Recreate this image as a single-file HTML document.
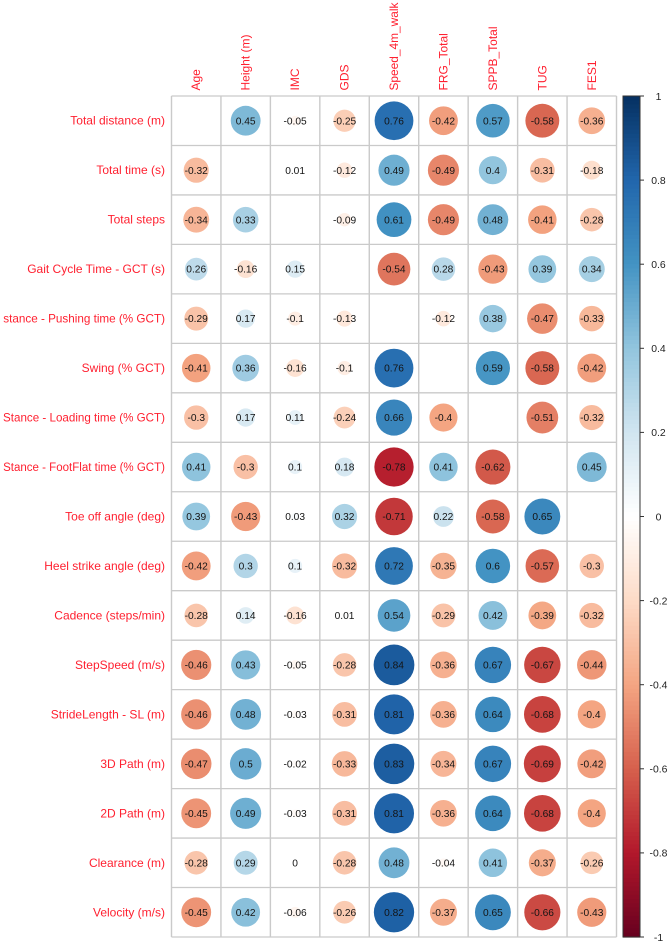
<!DOCTYPE html>
<html lang="en">
<head>
<meta charset="utf-8">
<title>Correlation matrix</title>
<style>
html,body{margin:0;padding:0;background:#fff;width:670px;height:944px;overflow:hidden}
svg{display:block;font-family:"Liberation Sans",Arial,sans-serif}
</style>
</head>
<body>
<svg id="chart" xmlns="http://www.w3.org/2000/svg" width="670" height="944" viewBox="0 0 670 944"></svg>
<script>
const columnLabels = ["Age","Height (m)","IMC","GDS","Speed_4m_walk","FRG_Total","SPPB_Total","TUG","FES1"];
const rowLabels = ["Total distance (m)","Total time (s)","Total steps","Gait Cycle Time - GCT (s)","stance - Pushing time (% GCT)","Swing (% GCT)","Stance - Loading time (% GCT)","Stance - FootFlat time (% GCT)","Toe off angle (deg)","Heel strike angle (deg)","Cadence (steps/min)","StepSpeed (m/s)","StrideLength - SL (m)","3D Path (m)","2D Path (m)","Clearance (m)","Velocity (m/s)"];
const correlations = [
[null,0.45,-0.05,-0.25,0.76,-0.42,0.57,-0.58,-0.36],
[-0.32,null,0.01,-0.12,0.49,-0.49,0.4,-0.31,-0.18],
[-0.34,0.33,null,-0.09,0.61,-0.49,0.48,-0.41,-0.28],
[0.26,-0.16,0.15,null,-0.54,0.28,-0.43,0.39,0.34],
[-0.29,0.17,-0.1,-0.13,null,-0.12,0.38,-0.47,-0.33],
[-0.41,0.36,-0.16,-0.1,0.76,null,0.59,-0.58,-0.42],
[-0.3,0.17,0.11,-0.24,0.66,-0.4,null,-0.51,-0.32],
[0.41,-0.3,0.1,0.18,-0.78,0.41,-0.62,null,0.45],
[0.39,-0.43,0.03,0.32,-0.71,0.22,-0.58,0.65,null],
[-0.42,0.3,0.1,-0.32,0.72,-0.35,0.6,-0.57,-0.3],
[-0.28,0.14,-0.16,0.01,0.54,-0.29,0.42,-0.39,-0.32],
[-0.46,0.43,-0.05,-0.28,0.84,-0.36,0.67,-0.67,-0.44],
[-0.46,0.48,-0.03,-0.31,0.81,-0.36,0.64,-0.68,-0.4],
[-0.47,0.5,-0.02,-0.33,0.83,-0.34,0.67,-0.69,-0.42],
[-0.45,0.49,-0.03,-0.31,0.81,-0.36,0.64,-0.68,-0.4],
[-0.28,0.29,0,-0.28,0.48,-0.04,0.41,-0.37,-0.26],
[-0.45,0.42,-0.06,-0.26,0.82,-0.37,0.65,-0.66,-0.43]
];
const legendTicks = [1,0.8,0.6,0.4,0.2,0,-0.2,-0.4,-0.6,-0.8,-1];
const palette = ["#67001F","#B2182B","#D6604D","#F4A582","#FDDBC7","#FFFFFF","#D1E5F0","#92C5DE","#4393C3","#2166AC","#053061"];

const NS = "http://www.w3.org/2000/svg";
const svg = document.getElementById("chart");
const gridLeft = 171.5, gridRight = 616.5, gridTop = 96, gridBottom = 937;
const cellW = (gridRight - gridLeft) / columnLabels.length;
const cellH = (gridBottom - gridTop) / rowLabels.length;
const barLeft = 623, barRight = 640;
const maxRowLabelWidth = 162, maxColumnLabelHeight = 88;

function xEdge(i){ return gridLeft + i * cellW; }
function yEdge(i){ return gridTop + i * cellH; }
function xCenter(i){ return xEdge(i) + cellW / 2; }
function yCenter(i){ return yEdge(i) + cellH / 2; }
function radius(v){ return Math.sqrt(Math.abs(v)) * 0.45 * Math.min(cellW, cellH); }
function legendY(v){ return gridTop + (1 - v) / 2 * (gridBottom - gridTop); }
function colorFor(v){
  const p = (Math.max(-1, Math.min(1, v)) + 1) / 2 * (palette.length - 1);
  const a = Math.min(Math.floor(p), palette.length - 2);
  const t = p - a;
  const parse = h => [1,3,5].map(k => parseInt(h.substr(k,2),16));
  const c1 = parse(palette[a]), c2 = parse(palette[a+1]);
  return "rgb(" + c1.map((c,k) => Math.round(c + (c2[k]-c)*t)).join(",") + ")";
}
function make(tag, attrs, parent){
  const el = document.createElementNS(NS, tag);
  for (const k in attrs) el.setAttribute(k, attrs[k]);
  (parent || svg).appendChild(el);
  return el;
}
function fitFont(el, maxLength){
  const len = el.getComputedTextLength();
  if (len > maxLength) el.setAttribute("font-size", 12 * maxLength / len);
}

// grid
for (let i = 0; i <= columnLabels.length; i++){
  const el = make("line", {x1:xEdge(i), x2:xEdge(i), y1:gridTop, y2:gridBottom, stroke:"#cacaca", "stroke-width":1.4});
  
  
}
for (let i = 0; i <= rowLabels.length; i++){
  const el = make("line", {x1:gridLeft, x2:gridRight, y1:yEdge(i), y2:yEdge(i), stroke:"#cacaca", "stroke-width":1.3});
  
  
}

// column labels
columnLabels.forEach((label, i) => {
  const x = xCenter(i) + 4, y = 90.5;
  const el = make("text", {x:x, y:y, transform:"rotate(-90 " + x + " " + y + ")", "font-size":12, fill:"#ff2030", "text-anchor":"start"});
  el.textContent = label;
  
  
  fitFont(el, maxColumnLabelHeight);
});

// row labels
rowLabels.forEach((label, i) => {
  const el = make("text", {x:165, y:yCenter(i) + 4, "font-size":12, fill:"#ff2030", "text-anchor":"end"});
  el.textContent = label;
  
  
  fitFont(el, maxRowLabelWidth);
});

// cells
correlations.forEach((row, r) => {
  row.forEach((v, c) => {
    if (v === null) return;
    const dot = make("circle", {cx:xCenter(c), cy:yCenter(r), r:radius(v), fill:colorFor(v)});
    
    
    const txt = make("text", {x:xCenter(c), y:yCenter(r) + 3.6, "font-size":10.2, fill:"#141414", "text-anchor":"middle"});
    txt.textContent = String(v);
    
    
  });
});

// legend colour bar
const barSteps = 200;
for (let i = 0; i < barSteps; i++){
  const hi = 1 - 2 * i / barSteps, lo = 1 - 2 * (i + 1) / barSteps;
  const seg = make("rect", {x:barLeft, width:barRight - barLeft, y:legendY(hi), height:legendY(lo) - legendY(hi) + 0.6, fill:colorFor((hi + lo) / 2)});
  
  
}
const barFrame = make("rect", {x:barLeft, y:gridTop, width:barRight - barLeft, height:gridBottom - gridTop, fill:"none", stroke:"#333", "stroke-width":1});



legendTicks.forEach(v => {
  const y = legendY(v);
  const tick = make("line", {x1:barRight, x2:barRight + 4, y1:y, y2:y, stroke:"#333", "stroke-width":1});
  
  
  const lab = make("text", {x:658.5, y:y + 3.8, "font-size":10.4, fill:"#222", "text-anchor":"middle"});
  lab.textContent = String(v);
  
  
});
</script>
</body>
</html>
